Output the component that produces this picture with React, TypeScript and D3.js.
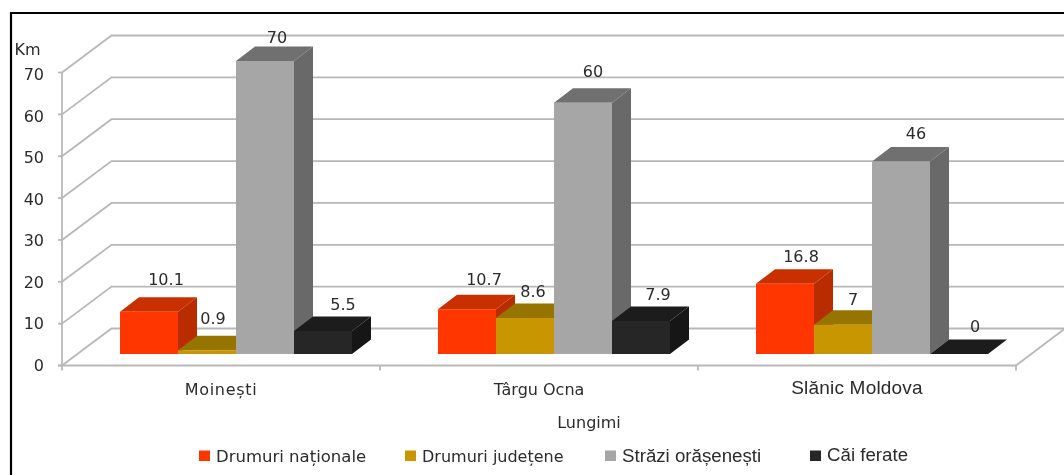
import React from "react";
import * as d3 from "d3";

const categories = ["Moinești", "Târgu Ocna", "Slănic Moldova"];
const seriesNames = ["Drumuri naționale", "Drumuri județene", "Străzi orășenești", "Căi ferate"];
const nationale = [10.1, 10.7, 16.8];
const judetene = [0.9, 8.6, 7];
const strazi = [70, 60, 46];
const ferate = [5.5, 7.9, 0];
const labels = [
  ["10.1", "10.7", "16.8"],
  ["0.9", "8.6", "7"],
  ["70", "60", "46"],
  ["5.5", "7.9", "0"],
];
const yTicks = [0, 10, 20, 30, 40, 50, 60, 70];
const frontColors = ["#ff3600", "#c89600", "#a6a6a6", "#262626"];
const topColors = ["#c83000", "#957400", "#707070", "#1c1c1c"];
const sideColors = ["#b82c00", "#806400", "#696969", "#161616"];

// label placement relative to each bar (the source chart's labels were hand-placed)
const labelDx = [
  [17, 17, 16],
  [6, 8, 10],
  [12, 10, 15],
  [20, 17, 16],
];
const labelDy = [
  [-27, -24, -22],
  [-26, -21, -20],
  [-18, -26, -22],
  [-21, -21, -22],
];
const categoryFonts = ["DejaVu Sans", "DejaVu Sans", "Liberation Sans"];
const categorySizes = [16, 16, 19];
const categorySpacing = [0.7, 0, 0.2];
const categoryBaselines = [395, 395, 394];
const legendX = [199, 405, 605, 810];
const legendFonts = ["DejaVu Sans", "DejaVu Sans", "Liberation Sans", "Liberation Sans"];
const legendSizes = [16.5, 16, 18.7, 18.7];
const legendBaselines = [461.5, 461.5, 461.5, 460.5];

const series = [nationale, judetene, strazi, ferate];
const grid = "#b8b8b8";
const textCol = "#2b2b2b";

export default function App() {
  const y = d3.scaleLinear().domain([0, 70]).range([365.5, 72.5]);
  const yLabel = d3.scaleLinear().domain([0, 70]).range([371, 80]);
  const x = d3.scaleBand<string>().domain(categories).range([62, 1016]);
  const depth = { dx: 49.5, dy: -37 };
  const yBar = (v: number) => y(v) - 11.5;
  const bar = d3.scaleBand<number>().domain([0, 1, 2, 3]).range([0, 232]);
  const barDepth = { dx: 19, dy: -14.5 };
  const line = d3.line();
  const poly = (p: [number, number][]) => line(p) + "Z";

  return (
    <svg
      width={1064}
      height={475}
      style={{ position: "absolute", left: 0, top: 0, background: "#fff" }}
    >
      <g style={{ filter: "blur(0.45px)" }}>
        {/* frame */}
        <path d="M11,475V13H1064" fill="none" stroke="#000" strokeWidth={2.2} />

        {/* floor right edge */}
        <line x1={1016} x2={1065} y1={y(0)} y2={y(0) + depth.dy} stroke={grid} strokeWidth={1.8} />

        {/* gridlines */}
        {yTicks.map((t) => (
          <path
            key={t}
            d={`M${62},${y(t)}L${62 + depth.dx},${y(t) + depth.dy}H1064`}
            fill="none"
            stroke={grid}
            strokeWidth={1.8}
          />
        ))}

        {/* axes */}
        <line x1={62} x2={62} y1={y(70)} y2={y(0) + 5} stroke={grid} strokeWidth={1.8} />
        <line x1={58} x2={1016} y1={y(0)} y2={y(0)} stroke={grid} strokeWidth={1.8} />
        {yTicks.map((t) => (
          <line key={t} x1={58} x2={62} y1={y(t)} y2={y(t)} stroke={grid} strokeWidth={1.8} />
        ))}
        {[...categories.map((c) => x(c)!), 1016].slice(1).map((px) => (
          <line key={px} x1={px} x2={px} y1={y(0)} y2={y(0) + 5} stroke={grid} strokeWidth={1.8} />
        ))}

        {/* y tick labels */}
        {yTicks.map((t) => (
          <text
            key={t}
            x={44}
            y={yLabel(t)}
            textAnchor="end"
            fontFamily="DejaVu Sans"
            fontSize={16}
            fill={textCol}
          >
            {t}
          </text>
        ))}
        <text x={14.5} y={54.5} fontFamily="DejaVu Sans" fontSize={16} fill={textCol}>
          Km
        </text>

        {/* bars */}
        {categories.map((c, i) =>
          [0, 1, 2, 3].map((s) => {
            const x0 = x(c)! + 58 + bar(s)!;
            const w = bar.bandwidth();
            const v = series[s][i];
            const yt = yBar(v);
            const yb = yBar(0);
            const { dx, dy } = barDepth;
            return (
              <g key={c + s}>
                <path
                  d={poly([[x0, yt], [x0 + dx, yt + dy], [x0 + w + dx, yt + dy], [x0 + w, yt]])}
                  fill={topColors[s]}
                />
                <path
                  d={poly([[x0 + w, yb], [x0 + w + dx, yb + dy], [x0 + w + dx, yt + dy], [x0 + w, yt]])}
                  fill={sideColors[s]}
                />
                <rect x={x0} y={yt} width={w} height={yb - yt} fill={frontColors[s]} />
              </g>
            );
          })
        )}

        {/* value labels */}
        {categories.map((c, i) =>
          [0, 1, 2, 3].map((s) => {
            const x0 = x(c)! + 58 + bar(s)!;
            const v = series[s][i];
            return (
              <text
                key={c + s}
                x={x0 + bar.bandwidth() / 2 + labelDx[s][i]}
                y={yBar(v) + labelDy[s][i]}
                textAnchor="middle"
                fontFamily="DejaVu Sans"
                fontSize={16}
                fill={textCol}
              >
                {labels[s][i]}
              </text>
            );
          })
        )}

        {/* category labels */}
        {categories.map((c, i) => (
          <text
            key={c}
            x={x(c)! + x.bandwidth() / 2}
            y={categoryBaselines[i]}
            textAnchor="middle"
            fontFamily={categoryFonts[i]}
            fontSize={categorySizes[i]}
            letterSpacing={categorySpacing[i]}
            fill={textCol}
          >
            {c}
          </text>
        ))}

        {/* axis title */}
        <text x={589} y={428} textAnchor="middle" fontFamily="DejaVu Sans" fontSize={16} fill={textCol}>
          Lungimi
        </text>

        {/* legend */}
        {seriesNames.map((n, i) => (
          <g key={n}>
            <rect x={legendX[i]} y={450.5} width={11} height={10.5} fill={frontColors[i]} />
            <text
              x={legendX[i] + 17}
              y={legendBaselines[i]}
              fontFamily={legendFonts[i]}
              fontSize={legendSizes[i]}
              fill={textCol}
            >
              {n}
            </text>
          </g>
        ))}
      </g>
    </svg>
  );
}
